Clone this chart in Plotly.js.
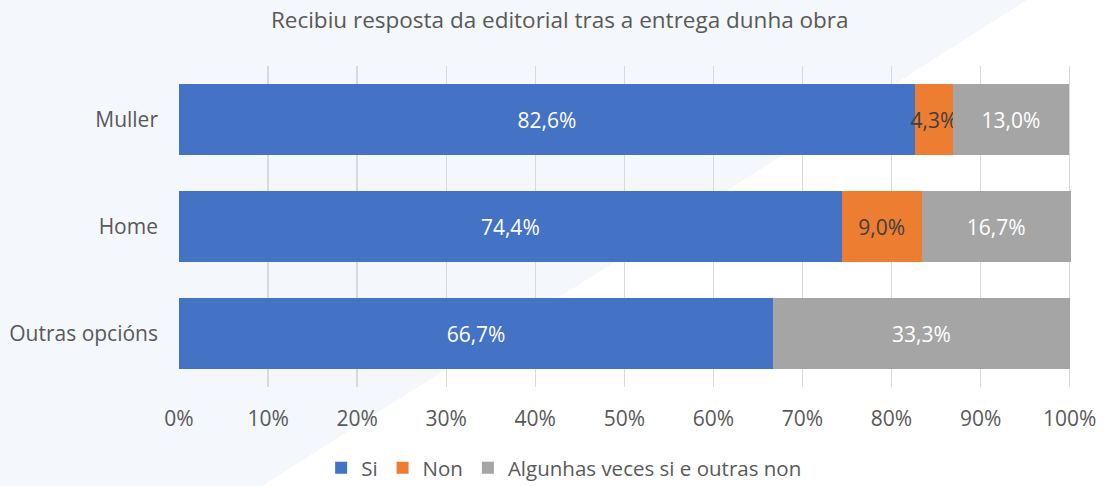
<!DOCTYPE html>
<html>
<head>
<meta charset="utf-8">
<script src="https://cdn.plot.ly/plotly-3.0.1.min.js"></script>
<style>
html,body{margin:0;padding:0;background:#ffffff;}
#wrap{position:relative;width:1104px;height:486px;overflow:hidden;}
#bg{position:absolute;left:0;top:0;width:1104px;height:486px;background:#f4f7fb;
clip-path:polygon(0 0,1027px 0,262px 486px,0 486px);}
#chart{position:absolute;left:0;top:0;width:1104px;height:486px;}
</style>
</head>
<body>
<div id="wrap"><div id="bg"></div><div id="chart"></div></div>
<script>
const categories = ["Muller", "Home", "Outras opcións"];
const seriesNames = ["Si", "Non", "Algunhas veces si e outras non"];
const siValues = [82.6, 74.4, 66.7];
const nonValues = [4.3, 9.0, null];
const algunhasValues = [13.0, 16.7, 33.3];
const xTickValues = [0,10,20,30,40,50,60,70,80,90,100];
const xTickLabels = ["0%","10%","20%","30%","40%","50%","60%","70%","80%","90%","100%"];
const colors = ["#4472c4", "#ed7d31", "#a5a5a5"];
const textColors = ["#ffffff", "#404040", "#ffffff"];

const FONT = "Open Sans, sans-serif";
const vals = [siValues, nonValues, algunhasValues];
const traces = seriesNames.map((name, i) => ({
  type: "bar",
  orientation: "h",
  name: name,
  y: categories,
  x: vals[i],
  marker: {color: colors[i], line: {width: 0}},
  texttemplate: "%{x:.1f}%",
  textposition: "inside",
  insidetextanchor: "middle",
  textangle: 0,
  constraintext: "none",
  cliponaxis: false,
  textfont: {family: FONT, size: 21, color: textColors[i]},
  hoverinfo: "skip"
}));

const layout = {
  width: 1104, height: 486,
  paper_bgcolor: "rgba(0,0,0,0)",
  plot_bgcolor: "rgba(0,0,0,0)",
  margin: {l: 179, r: 33, t: 66, b: 99},
  barmode: "stack",
  bargap: 0.336,
  separators: ",.",
  font: {family: FONT, color: "#595959", size: 20},
  title: {text: "Recibiu resposta da editorial tras a entrega dunha obra",
          font: {family: FONT, size: 22.5, color: "#595959"},
          x: 0.507, xref: "container", xanchor: "center",
          y: 0.959, yref: "container", yanchor: "middle"},
  xaxis: {
    range: [0, 100.15],
    tickvals: xTickValues, ticktext: xTickLabels,
    showgrid: true, gridcolor: "#d9d9d9", gridwidth: 1.3,
    zeroline: false, showline: false,
    ticks: "", ticklabelstandoff: 17,
    tickfont: {family: FONT, size: 21, color: "#595959"},
    automargin: false,
    fixedrange: true
  },
  yaxis: {
    autorange: "reversed",
    showgrid: false, zeroline: false, showline: false,
    ticks: "", ticklabelstandoff: 20,
    tickfont: {family: FONT, size: 21, color: "#595959"},
    automargin: false,
    fixedrange: true
  },
  showlegend: true,
  legend: {orientation: "h", xref: "container", yref: "container",
           x: 0.511, xanchor: "center", y: 0.037, yanchor: "middle",
           font: {family: FONT, size: 20.5, color: "#595959"},
           traceorder: "normal", bgcolor: "rgba(0,0,0,0)"}
};

Plotly.newPlot("chart", traces, layout, {displayModeBar: false, staticPlot: true});
</script>
</body>
</html>
